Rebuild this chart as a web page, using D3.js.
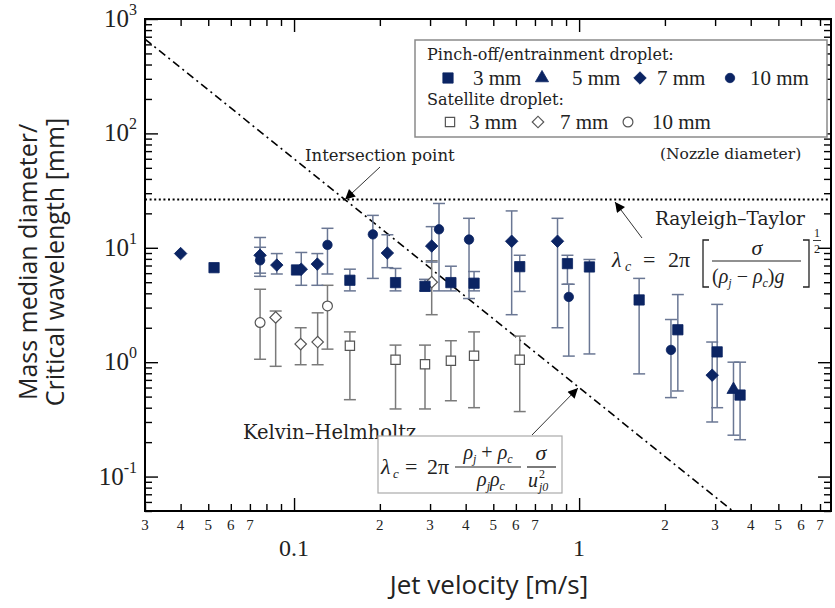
<!DOCTYPE html>
<html>
<head>
<meta charset="utf-8">
<script src="https://cdn.jsdelivr.net/npm/d3@7"></script>
<style>
  body { margin: 0; background: #fff; }
  svg { display: block; }
  .serif { font-family: 'Liberation Serif', 'Times New Roman', serif; }
  .lucida { font-family: 'DejaVu Serif', serif; }
</style>
</head>
<body>
<svg id="chart" width="835" height="608"></svg>
<script>
// [jet velocity (m/s), diameter (mm), error low, error high]
const pinch3mm = [
  [0.0524, 6.7, null, null], [0.102, 6.4, null, null], [0.157, 5.2, 4.2, 6.5],
  [0.227, 4.96, 4.2, 6.6], [0.288, 4.6, 4.2, 5.3], [0.355, 4.96, 4.2, 6.9],
  [0.428, 4.9, 4.2, 6.2], [0.619, 6.84, 4.15, 8.6], [0.91, 7.27, 4.8, 8.6],
  [1.087, 6.8, 1.18, 7.9], [1.624, 3.5, 0.79, 5.4], [2.22, 1.92, 0.56, 3.9],
  [3.05, 1.23, 0.4, 3.2], [3.67, 0.516, 0.21, 1.0]
]
const pinch5mm = [[3.48, 0.575, 0.23, 1.0]]
const pinch7mm = [
  [0.04, 8.9, null, null], [0.076, 8.6, 6.0, 10.1], [0.087, 7.06, 5.9, 8.9],
  [0.106, 6.5, 4.7, 9.1], [0.1207, 7.2, 4.7, 8.9], [0.2125, 9.0, 6.7, 13],
  [0.304, 10.35, 7.5, 15.3], [0.58, 11.4, 2.6, 21], [0.84, 11.4, 2.0, 18.1],
  [2.93, 0.77, 0.3, 1.5]
]
const pinch10mm = [
  [0.076, 7.77, 5.63, 12.3], [0.131, 10.6, 5.9, 14.8], [0.189, 13.1, 5.4, 19.2],
  [0.3225, 14.5, 4.2, 24.4], [0.411, 11.8, 3.6, 18.1], [0.92, 3.72, 1.13, 4.8],
  [2.1, 1.28, 0.49, 2.36]
]
const sat3mm = [
  [0.157, 1.39, 0.47, 1.84], [0.227, 1.05, 0.39, 1.41], [0.288, 0.96, 0.39, 1.41],
  [0.355, 1.03, 0.46, 1.54], [0.428, 1.14, 0.4, 1.84], [0.619, 1.05, 0.37, 1.69]
]
const sat7mm = [
  [0.0862, 2.46, 0.92, 2.8], [0.1055, 1.44, 0.95, 2.0], [0.121, 1.5, 0.95, 2.7],
  [0.304, 5.0, 2.6, 7.7]
]
const sat10mm = [[0.076, 2.22, 1.06, 4.34], [0.131, 3.1, 1.3, 4.7]]

const rtWavelength = 26.4
const khLine = [[0.03, 667], [3.46, 0.05]]
const xDigitLabels = [0.03, 0.04, 0.05, 0.06, 0.07, 0.2, 0.3, 0.4, 0.5, 0.6, 0.7, 2, 3, 4, 5, 6, 7]
const xMajorLabels = [0.1, 1]
const yMajorLabels = [0.1, 1, 10, 100, 1000]

const navy = '#0b2463'
const svg = d3.select('#chart')
const x = d3.scaleLog().domain([0.03, 7.65]).range([145, 831])
const y = d3.scaleLog().domain([0.05, 1000]).range([511, 19])
const isMajor = v => Math.abs(Math.log10(v) - Math.round(Math.log10(v))) < 1e-6

svg.append('defs').append('clipPath').attr('id', 'plot')
  .append('rect').attr('x', 145).attr('y', 19).attr('width', 686).attr('height', 492)
svg.select('defs').append('marker')
  .attr('id', 'arrow').attr('viewBox', '0 0 10 10').attr('refX', 10).attr('refY', 5)
  .attr('markerWidth', 13).attr('markerHeight', 10).attr('markerUnits', 'userSpaceOnUse')
  .attr('orient', 'auto')
  .append('path').attr('d', 'M0,0L10,5L0,10z').attr('fill', '#000')

// ticks on all four sides, pointing inward
function ticks(axisFn, scale, transform) {
  const all = scale.ticks()
  const minor = all.filter(v => !isMajor(v))
  const major = all.filter(isMajor)
  ;[[minor, 7], [major, 13]].forEach(([vals, len]) => {
    svg.append('g').attr('transform', transform)
      .call(axisFn(scale).tickValues(vals).tickSize(-len).tickSizeOuter(0).tickFormat(''))
      .call(g => g.select('.domain').remove())
      .selectAll('line').attr('stroke', '#000').attr('stroke-width', 1.4)
  })
}
ticks(d3.axisBottom, x, 'translate(0,511)')
ticks(d3.axisTop, x, 'translate(0,19)')
ticks(d3.axisLeft, y, 'translate(145,0)')
ticks(d3.axisRight, y, 'translate(831,0)')

svg.append('rect').attr('x', 145).attr('y', 19).attr('width', 686).attr('height', 492)
  .attr('fill', 'none').attr('stroke', '#000').attr('stroke-width', 2)

// tick labels
svg.append('g').selectAll('text').data(xDigitLabels).enter().append('text')
  .attr('class', 'serif').attr('x', d => x(d)).attr('y', 530)
  .attr('text-anchor', 'middle').attr('font-size', 15).attr('fill', '#222')
  .text(d => String(d).replace(/^0\.0?/, '').replace(/^0+/, ''))
svg.append('g').selectAll('text').data(xMajorLabels).enter().append('text')
  .attr('class', 'serif').attr('x', d => x(d)).attr('y', 556)
  .attr('text-anchor', 'middle').attr('font-size', 24).attr('fill', '#222')
  .text(d => d)
const yl = svg.append('g').selectAll('text').data(yMajorLabels).enter().append('text')
  .attr('class', 'serif').attr('x', 137).attr('y', d => y(d) + 8)
  .attr('text-anchor', 'end').attr('fill', '#222')
yl.append('tspan').attr('font-size', 25).text('10')
yl.append('tspan').attr('font-size', 16).attr('dy', -12).text(d => Math.round(Math.log10(d)))

// axis titles
svg.append('text').attr('x', 489).attr('y', 594).attr('text-anchor', 'middle')
  .attr('font-family', 'Open Sans, sans-serif').attr('font-size', 26).attr('fill', '#222')
  .text('Jet velocity [m/s]')
svg.append('text').attr('transform', 'translate(37,262) rotate(-90)').attr('text-anchor', 'middle')
  .attr('font-family', 'Open Sans, sans-serif').attr('font-size', 25).attr('fill', '#222')
  .text('Mass median diameter/')
svg.append('text').attr('transform', 'translate(64,262) rotate(-90)').attr('text-anchor', 'middle')
  .attr('font-family', 'Open Sans, sans-serif').attr('font-size', 25).attr('fill', '#222')
  .text('Critical wavelength [mm]')

// theory lines
const plot = svg.append('g').attr('clip-path', 'url(#plot)')
plot.append('line')
  .attr('x1', x.range()[0]).attr('x2', x.range()[1])
  .attr('y1', y(rtWavelength)).attr('y2', y(rtWavelength))
  .attr('stroke', '#000').attr('stroke-width', 2).attr('stroke-dasharray', '2,2.6')
plot.append('path')
  .attr('d', d3.line().x(d => x(d[0])).y(d => y(d[1]))(khLine))
  .attr('fill', 'none').attr('stroke', '#000').attr('stroke-width', 1.6)
  .attr('stroke-dasharray', '8,4,2,4')

// error bars
function errorBars(data, color) {
  const g = plot.append('g').attr('stroke', color).attr('stroke-width', 1.5)
  data.filter(d => d[2] !== null).forEach(d => {
    const cx = x(d[0])
    g.append('line').attr('x1', cx).attr('x2', cx).attr('y1', y(d[2])).attr('y2', y(d[3]))
    ;[d[2], d[3]].forEach(v => {
      g.append('line').attr('x1', cx - 6).attr('x2', cx + 6).attr('y1', y(v)).attr('y2', y(v))
    })
  })
}
const satColor = '#7a7a7a'
const pinchColor = '#6a7794'
;[sat3mm, sat7mm, sat10mm].forEach(s => errorBars(s, satColor))
;[pinch3mm, pinch5mm, pinch7mm, pinch10mm].forEach(s => errorBars(s, pinchColor))

const shapes = {
  square: { type: d3.symbolSquare, size: 106, rot: 0 },
  triangle: { type: d3.symbolTriangle, size: 74, rot: 0 },
  diamond: { type: d3.symbolSquare, size: 78, rot: 45 },
  circle: { type: d3.symbolCircle, size: 70, rot: 0 },
  osquare: { type: d3.symbolSquare, size: 86, rot: 0 },
  odiamond: { type: d3.symbolSquare, size: 66, rot: 45 },
  ocircle: { type: d3.symbolCircle, size: 76, rot: 0 }
}
function drawMarker(g, shape, cx, cy) {
  const s = shapes[shape]
  const open = shape.startsWith('o')
  g.append('path')
    .attr('d', d3.symbol().type(s.type).size(s.size)())
    .attr('transform', `translate(${cx},${cy}) rotate(${s.rot})`)
    .attr('fill', open ? '#fff' : navy)
    .attr('stroke', open ? '#555' : navy)
    .attr('stroke-width', open ? 1.2 : 0.8)
}
const series = [
  [sat3mm, 'osquare'], [sat7mm, 'odiamond'], [sat10mm, 'ocircle'],
  [pinch3mm, 'square'], [pinch5mm, 'triangle'], [pinch7mm, 'diamond'], [pinch10mm, 'circle']
]
const markers = plot.append('g')
series.forEach(([data, shape]) => {
  data.forEach(d => drawMarker(markers, shape, x(d[0]), y(d[1])))
})

// legend
const legend = svg.append('g')
legend.append('rect').attr('x', 415).attr('y', 40).attr('width', 412).attr('height', 97)
  .attr('fill', '#fff').attr('stroke', '#8a8a8a').attr('stroke-width', 1.5)
legend.append('text').attr('class', 'lucida').attr('x', 427).attr('y', 60)
  .attr('font-size', 16).attr('fill', '#222').text('Pinch-off/entrainment droplet:')
legend.append('text').attr('class', 'lucida').attr('x', 427).attr('y', 105)
  .attr('font-size', 16).attr('fill', '#222').text('Satellite droplet:')
const legendRows = [
  [78, [['square', 448, 473, '3 mm'], ['triangle', 542, 572, '5 mm'], ['diamond', 640, 657, '7 mm'], ['circle', 730, 750, '10 mm']]],
  [122, [['osquare', 450, 469, '3 mm'], ['odiamond', 538, 560, '7 mm'], ['ocircle', 628, 652, '10 mm']]]
]
legendRows.forEach(([ry, items]) => {
  items.forEach(([shape, mx, tx, label]) => {
    drawMarker(legend, shape, mx, ry)
    legend.append('text').attr('class', 'serif').attr('x', tx).attr('y', ry + 7)
      .attr('font-size', 21).attr('fill', '#222').text(label)
  })
})

// annotations
const note = (tx, ty, size, label) => svg.append('text').attr('class', 'lucida')
  .attr('x', tx).attr('y', ty).attr('font-size', size).attr('fill', '#222').text(label)
note(305, 161, 16.5, 'Intersection point')
note(660, 159, 15.5, '(Nozzle diameter)')
note(655, 225, 18.5, 'Rayleigh\u2013Taylor')
note(243, 439, 19.5, 'Kelvin\u2013Helmholtz')

const arrow = (x1, y1, x2, y2) => svg.append('line')
  .attr('x1', x1).attr('y1', y1).attr('x2', x2).attr('y2', y2)
  .attr('stroke', '#333').attr('stroke-width', 1).attr('marker-end', 'url(#arrow)')
arrow(380, 167, x(0.151), y(rtWavelength))
arrow(642, 238, 615, 202)
arrow(532, 435, 578, 388)

// Rayleigh-Taylor formula
const rt = svg.append('g').attr('fill', '#222')
const mtext = (g, tx, ty, size, label, anchor, italic) => g.append('text')
  .attr('x', tx).attr('y', ty).attr('font-size', size)
  .attr('font-family', 'Liberation Serif, serif')
  .attr('font-style', italic ? 'italic' : 'normal')
  .attr('text-anchor', anchor || 'start').text(label)
mtext(rt, 612, 267, 22, '\u03bb', 'start', true)
mtext(rt, 625, 271, 14, 'c', 'start', true)
mtext(rt, 643, 267, 22, '=')
mtext(rt, 668, 267, 22, '2\u03c0')
rt.append('path').attr('d', 'M709,240H703V287H709M803,240H809V287H803')
  .attr('fill', 'none').attr('stroke', '#222').attr('stroke-width', 1.3)
mtext(rt, 757, 255, 22, '\u03c3', 'middle', true)
rt.append('line').attr('x1', 712).attr('x2', 801).attr('y1', 261).attr('y2', 261)
  .attr('stroke', '#222').attr('stroke-width', 1.2)
const den = mtext(rt, 712, 283, 20, '(', 'start', false)
den.append('tspan').attr('font-style', 'italic').text('\u03c1')
den.append('tspan').attr('font-style', 'italic').attr('font-size', 12).attr('dy', 4).text('j')
den.append('tspan').attr('dy', -4).text(' \u2212 ')
den.append('tspan').attr('font-style', 'italic').text('\u03c1')
den.append('tspan').attr('font-style', 'italic').attr('font-size', 12).attr('dy', 4).text('c')
den.append('tspan').attr('dy', -4).text(')')
den.append('tspan').attr('font-style', 'italic').text('g')
mtext(rt, 817, 237, 12, '1', 'middle')
rt.append('line').attr('x1', 813).attr('x2', 821).attr('y1', 240.5).attr('y2', 240.5)
  .attr('stroke', '#222').attr('stroke-width', 0.9)
mtext(rt, 817, 253, 12, '2', 'middle')

// Kelvin-Helmholtz formula
const kh = svg.append('g').attr('fill', '#222')
kh.append('rect').attr('x', 378).attr('y', 436).attr('width', 184).attr('height', 57)
  .attr('fill', '#fff').attr('stroke', '#aaa').attr('stroke-width', 1.2)
mtext(kh, 381, 474, 22, '\u03bb', 'start', true)
mtext(kh, 393, 478, 13, 'c', 'start', true)
mtext(kh, 405, 474, 22, '=')
mtext(kh, 427, 474, 22, '2\u03c0')
const num = mtext(kh, 488, 459, 20, '', 'middle', true)
num.append('tspan').text('\u03c1')
num.append('tspan').attr('font-size', 12).attr('dy', 4).text('j')
num.append('tspan').attr('dy', -4).attr('font-style', 'normal').text(' + ')
num.append('tspan').text('\u03c1')
num.append('tspan').attr('font-size', 12).attr('dy', 4).text('c')
kh.append('line').attr('x1', 455).attr('x2', 521).attr('y1', 467).attr('y2', 467)
  .attr('stroke', '#222').attr('stroke-width', 1.2)
const den2 = mtext(kh, 491, 486, 20, '', 'middle', true)
den2.append('tspan').text('\u03c1')
den2.append('tspan').attr('font-size', 12).attr('dy', 4).text('j')
den2.append('tspan').attr('dy', -4).text('\u03c1')
den2.append('tspan').attr('font-size', 12).attr('dy', 4).text('c')
mtext(kh, 541, 460, 22, '\u03c3', 'middle', true)
kh.append('line').attr('x1', 527).attr('x2', 556).attr('y1', 467).attr('y2', 467)
  .attr('stroke', '#222').attr('stroke-width', 1.2)
mtext(kh, 528, 487, 20, 'u', 'start', true)
mtext(kh, 539, 478, 12, '2', 'start')
mtext(kh, 539, 491, 12, 'j0', 'start', true)
</script>
</body>
</html>
